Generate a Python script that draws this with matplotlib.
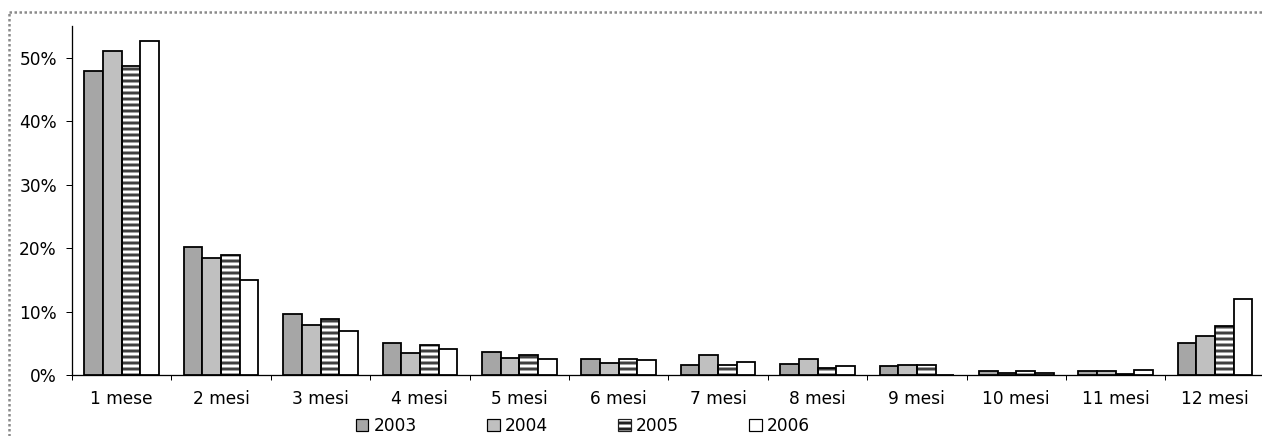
import matplotlib
matplotlib.use("Agg")
import matplotlib.pyplot as plt
import numpy as np
from matplotlib.patches import Patch
from matplotlib.lines import Line2D

categories = ["1 mese", "2 mesi", "3 mesi", "4 mesi", "5 mesi", "6 mesi",
              "7 mesi", "8 mesi", "9 mesi", "10 mesi", "11 mesi", "12 mesi"]
years = ["2003", "2004", "2005", "2006"]
v2003 = [47.9, 20.2, 9.6, 5.0, 3.6, 2.5, 1.6, 1.7, 1.4, 0.7, 0.6, 5.0]
v2004 = [51.1, 18.4, 7.9, 3.4, 2.7, 1.9, 3.2, 2.6, 1.6, 0.35, 0.6, 6.1]
v2005 = [48.7, 18.9, 8.8, 4.7, 3.2, 2.5, 1.5, 1.1, 1.6, 0.7, 0.2, 7.8]
v2006 = [52.7, 14.9, 7.0, 4.1, 2.5, 2.3, 2.0, 1.4, 0.0, 0.35, 0.8, 11.9]
series = [v2003, v2004, v2005, v2006]
yticks = [0, 10, 20, 30, 40, 50]

faces = ["#a6a6a6", "#c0c0c0", "white", "white"]
hatches = [None, None, "--", None]

DPI = 72
W, H = 1262, 436
plt.rcParams["font.family"] = ["DejaVu Sans"]
plt.rcParams["hatch.linewidth"] = 3.0

fig = plt.figure(figsize=(W / DPI, H / DPI), dpi=DPI)
x0, x1 = 72, 72 + 12 * 99.4
y0, y1 = 375, 26
ax = fig.add_axes([x0 / W, (H - y0) / H, (x1 - x0) / W, (y0 - y1) / H])

x = np.arange(len(categories))
w = 0.188
for i, vals in enumerate(series):
    pos = x + (i - 1.5) * w
    if hatches[i]:
        ax.bar(pos, vals, width=w, color=faces[i], edgecolor="#404040",
               hatch=hatches[i], linewidth=0, zorder=2)
        ax.bar(pos, vals, width=w, fill=False, edgecolor="black",
               linewidth=1.8, zorder=3)
    else:
        ax.bar(pos, vals, width=w, color=faces[i], edgecolor="black",
               linewidth=1.8, zorder=3)

ax.set_xlim(-0.5, len(categories) - 0.5)
ax.set_ylim(0, 55)
ax.set_yticks(yticks)
ax.set_yticklabels([f"{t}%" for t in yticks])
ax.tick_params(axis="y", length=6, width=1, pad=9, labelsize=17)

ax.set_xticks(np.arange(len(categories) + 1) - 0.5)
ax.set_xticklabels([])
ax.tick_params(axis="x", which="major", length=5, width=1)
ax.set_xticks(x, minor=True)
ax.set_xticklabels(categories, minor=True)
ax.tick_params(axis="x", which="minor", length=0, pad=15, labelsize=17)

for s in ["top", "right"]:
    ax.spines[s].set_visible(False)
for s in ["left", "bottom"]:
    ax.spines[s].set_linewidth(1.3)
    ax.spines[s].set_color("black")

handles = []
for i, yr in enumerate(years):
    if hatches[i]:
        handles.append(Patch(facecolor=faces[i], edgecolor="#202020", hatch="--",
                             linewidth=1.2, label=yr))
    else:
        handles.append(Patch(facecolor=faces[i], edgecolor="black",
                             linewidth=1.2, label=yr))
fig.legend(handles=handles, loc="center", bbox_to_anchor=(583 / W, 1 - 426 / H),
           ncol=4, frameon=False, fontsize=17, handlelength=0.72,
           handleheight=0.72, handletextpad=0.3, columnspacing=4.15,
           borderpad=0)

# dotted chart-area border (top and left)
border_kw = dict(color="#8a8a8a", linewidth=2.5, linestyle=(0, (1, 1)),
                 transform=fig.transFigure)
fig.add_artist(Line2D([9 / W, 1.0], [1 - 12 / H, 1 - 12 / H], **border_kw))
fig.add_artist(Line2D([9 / W, 9 / W], [0.0, 1 - 12 / H], **border_kw))

fig.savefig("out.png", dpi=DPI, facecolor="white")
